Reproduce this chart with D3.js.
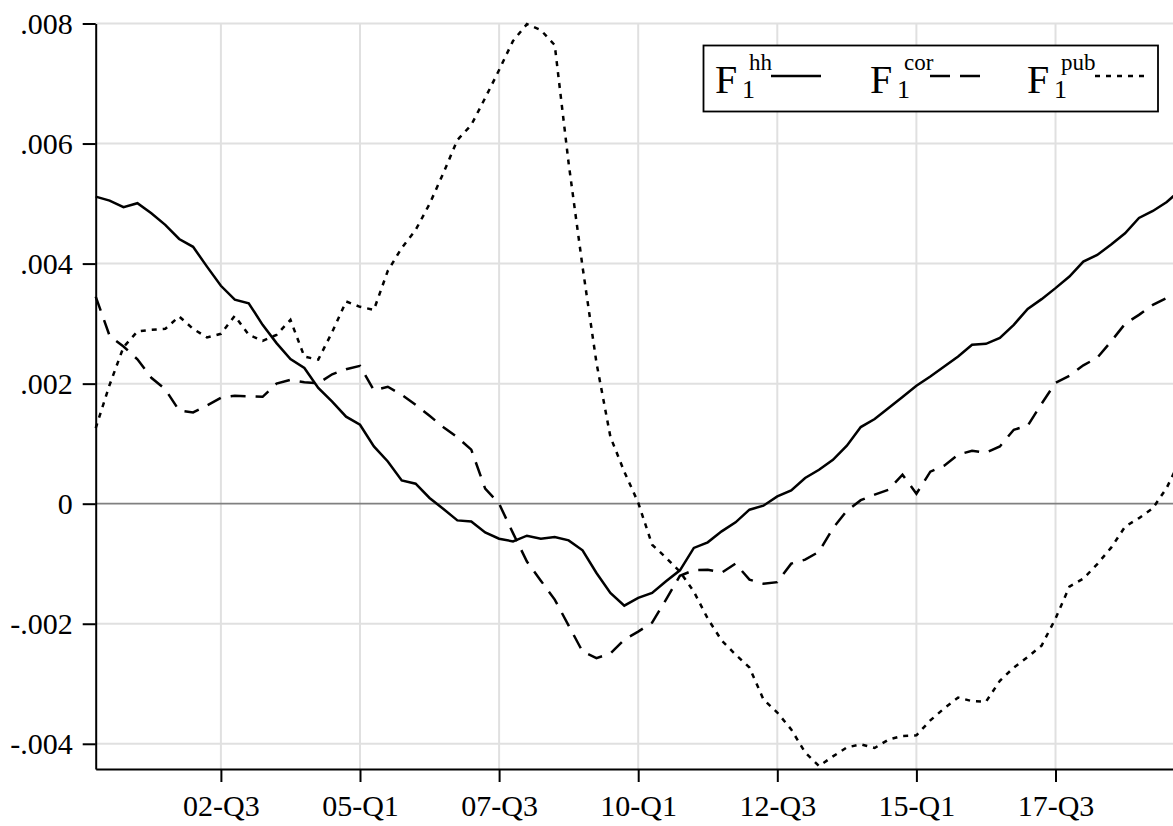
<!DOCTYPE html>
<html>
<head>
<meta charset="utf-8">
<script src="https://cdn.jsdelivr.net/npm/d3@7/dist/d3.min.js"></script>
<style>
  html, body { margin: 0; padding: 0; background: #fff; }
  svg { display: block; }
  text { font-family: "Liberation Serif", "Times New Roman", serif; fill: #000; }
</style>
</head>
<body>
<script>
// Quarterly first-factor loadings, 2000-Q2 .. 2019-Q4
const startYear = 2000, startQuarter = 2, nQuarters = 79;

const hh = [
  0.005116, 0.005049, 0.004940, 0.005006, 0.004840, 0.004645, 0.004410, 0.004280, 0.003950, 0.003630,
  0.003400, 0.003340, 0.002980, 0.002675, 0.002410, 0.002260, 0.001930, 0.001700, 0.001450, 0.001315,
  0.000954, 0.000704, 0.000388, 0.000333, 0.000095, -0.000088, -0.000278, -0.000295, -0.000478, -0.000583,
  -0.000628, -0.000533, -0.000583, -0.000554, -0.000611, -0.000777, -0.001154, -0.001487, -0.001698, -0.001570,
  -0.001487, -0.001293, -0.001110, -0.000737, -0.000644, -0.000461, -0.000311, -0.000100, -0.000033, 0.000121,
  0.000221, 0.000428, 0.000566, 0.000732, 0.000966, 0.001277, 0.001410, 0.001593, 0.001776, 0.001964,
  0.002119, 0.002286, 0.002452, 0.002647, 0.002664, 0.002763, 0.002980, 0.003246, 0.003408, 0.003591,
  0.003784, 0.004034, 0.004145, 0.004320, 0.004506, 0.004760, 0.004877, 0.005027, 0.005230
];

const cor = [
  0.003451, 0.002797, 0.002619, 0.002405, 0.002098, 0.001906, 0.001553, 0.001520, 0.001636, 0.001765,
  0.001798, 0.001790, 0.001780, 0.002000, 0.002064, 0.002023, 0.002006, 0.002156, 0.002240, 0.002297,
  0.001890, 0.001948, 0.001815, 0.001648, 0.001465, 0.001274, 0.001107, 0.000900, 0.000250, 0.000000,
  -0.000490, -0.000964, -0.001282, -0.001598, -0.002030, -0.002464, -0.002572, -0.002497, -0.002264, -0.002131,
  -0.001981, -0.001598, -0.001200, -0.001107, -0.001099, -0.001149, -0.000999, -0.001265, -0.001332, -0.001307,
  -0.000999, -0.000932, -0.000800, -0.000408, -0.000117, 0.000058, 0.000150, 0.000233, 0.000483, 0.000166,
  0.000533, 0.000633, 0.000816, 0.000882, 0.000849, 0.000954, 0.001232, 0.001298, 0.001665, 0.002014,
  0.002131, 0.002306, 0.002430, 0.002705, 0.002997, 0.003146, 0.003313, 0.003429, 0.003530
];

const pub = [
  0.001260, 0.001980, 0.002610, 0.002870, 0.002897, 0.002913, 0.003120, 0.002913, 0.002770, 0.002830,
  0.003130, 0.002813, 0.002713, 0.002813, 0.003063, 0.002450, 0.002400, 0.002860, 0.003370, 0.003280,
  0.003230, 0.003880, 0.004260, 0.004560, 0.004994, 0.005510, 0.006060, 0.006310, 0.006760, 0.007225,
  0.007710, 0.007990, 0.007890, 0.007640, 0.005670, 0.003945, 0.002347, 0.001115, 0.000533, 0.000017,
  -0.000683, -0.000899, -0.001132, -0.001465, -0.001914, -0.002280, -0.002514, -0.002730, -0.003260, -0.003480,
  -0.003760, -0.004145, -0.004370, -0.004210, -0.004060, -0.004010, -0.004070, -0.003930, -0.003870, -0.003860,
  -0.003610, -0.003410, -0.003230, -0.003290, -0.003300, -0.002950, -0.002730, -0.002555, -0.002364, -0.001914,
  -0.001382, -0.001249, -0.001007, -0.000732, -0.000383, -0.000241, -0.000075, 0.000266, 0.000750
];

const xTickLabels = ["02-Q3", "05-Q1", "07-Q3", "10-Q1", "12-Q3", "15-Q1", "17-Q3"];
const yTickValues = [-0.004, -0.002, 0, 0.002, 0.004, 0.006, 0.008];
const yTickLabels = ["-.004", "-.002", "0", ".002", ".004", ".006", ".008"];

// Quarter labels such as "00-Q2"
const quarters = [];
for (let k = 0; k < nQuarters; k++) {
  const q0 = startQuarter - 1 + k;
  const yr = startYear + Math.floor(q0 / 4);
  const q = (q0 % 4) + 1;
  quarters.push(String(yr % 100).padStart(2, "0") + "-Q" + q);
}

const W = 1173, H = 826;
const svg = d3.select("body").append("svg").attr("width", W).attr("height", H);

const plotLeft = 95.7, plotBottom = 769, plotTop = 23.5, plotRight = 1180.7;
const x = d3.scalePoint().domain(quarters).range([plotLeft, plotRight]);
const y = d3.scaleLinear().domain([-0.00442, 0.008]).range([plotBottom, plotTop]);

// grid
const grid = svg.append("g");
grid.selectAll("line.h").data(yTickValues.filter(v => v !== 0)).join("line")
  .attr("x1", plotLeft).attr("x2", plotRight)
  .attr("y1", d => y(d)).attr("y2", d => y(d))
  .attr("stroke", "#e0e0e0").attr("stroke-width", 2);
grid.selectAll("line.v").data(xTickLabels).join("line")
  .attr("x1", d => x(d)).attr("x2", d => x(d))
  .attr("y1", plotTop).attr("y2", plotBottom)
  .attr("stroke", "#e0e0e0").attr("stroke-width", 2);
grid.append("line")
  .attr("x1", plotLeft).attr("x2", plotRight).attr("y1", y(0)).attr("y2", y(0))
  .attr("stroke", "#808080").attr("stroke-width", 1.8);

// series
const line = d3.line().x((d, i) => x(quarters[i])).y(d => y(d));
const series = [
  { values: hh, dash: null },
  { values: cor, dash: "15,10" },
  { values: pub, dash: "5,6" }
];
svg.append("g").selectAll("path").data(series).join("path")
  .attr("d", d => line(d.values))
  .attr("fill", "none")
  .attr("stroke", "#000")
  .attr("stroke-width", 2.5)
  .attr("stroke-dasharray", d => d.dash);

// axes
const yAxis = d3.axisLeft(y).tickValues(yTickValues)
  .tickFormat((d, i) => yTickLabels[i]).tickSize(13).tickSizeOuter(0).tickPadding(10);
const gy = svg.append("g").attr("transform", `translate(${plotLeft},0)`).call(yAxis);
gy.select(".domain").attr("stroke-width", 2);
gy.selectAll(".tick line").attr("stroke-width", 2);
gy.selectAll(".tick text").style("font-family", "Liberation Serif").style("font-size", "30px").attr("fill", "#000");

const xAxis = d3.axisBottom(x).tickValues(xTickLabels).tickSize(13).tickSizeOuter(0).tickPadding(13);
const gx = svg.append("g").attr("transform", `translate(0,${plotBottom})`).call(xAxis);
gx.select(".domain").attr("stroke-width", 2);
gx.selectAll(".tick line").attr("stroke-width", 2);
gx.selectAll(".tick text").style("font-family", "Liberation Serif").style("font-size", "30px").attr("fill", "#000");

// legend
const lg = svg.append("g");
lg.append("rect").attr("x", 703.5).attr("y", 45.5).attr("width", 454.5).attr("height", 66)
  .attr("fill", "#fff").attr("stroke", "#000").attr("stroke-width", 1.8);
const legendItems = [
  { sup: "hh", fx: 715, dash: null, lx: [771, 821] },
  { sup: "cor", fx: 870, dash: "20,10", lx: [930, 980] },
  { sup: "pub", fx: 1027, dash: "5,6", lx: [1095, 1145] }
];
legendItems.forEach(it => {
  lg.append("text").attr("x", it.fx).attr("y", 93).style("font-size", "40px").text("F");
  lg.append("text").attr("x", it.fx + 27).attr("y", 98).style("font-size", "26px").text("1");
  lg.append("text").attr("x", it.fx + 34).attr("y", 70).style("font-size", "23px").text(it.sup);
  lg.append("line").attr("x1", it.lx[0]).attr("x2", it.lx[1]).attr("y1", 76).attr("y2", 76)
    .attr("stroke", "#000").attr("stroke-width", 2.6).attr("stroke-dasharray", it.dash);
});
</script>
</body>
</html>
